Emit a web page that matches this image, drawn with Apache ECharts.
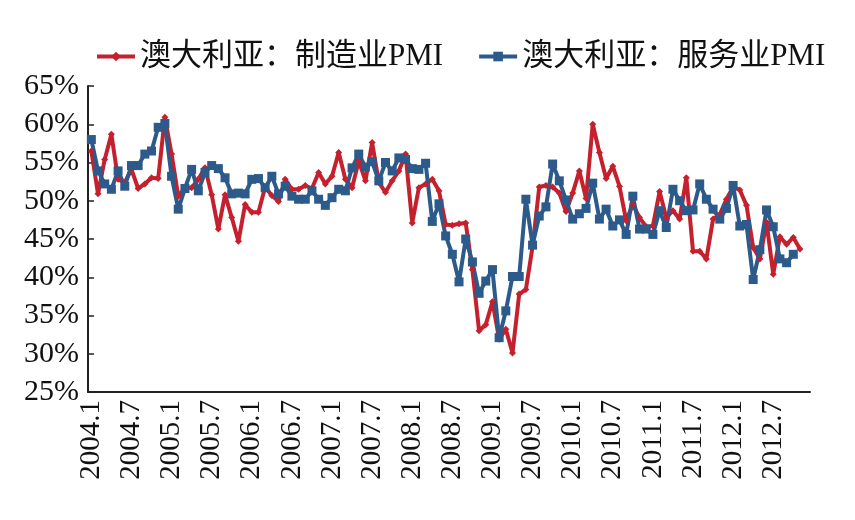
<!DOCTYPE html>
<html>
<head>
<meta charset="utf-8">
<script src="https://cdn.jsdelivr.net/npm/echarts@6/dist/echarts.min.js"></script>
<style>
  html, body { margin: 0; padding: 0; background: #fff; }
  #pmi_chart { width: 855px; height: 520px; }
</style>
</head>
<body>
<div id="pmi_chart"></div>
<script>
  // 2004.1 - 2012.12，月度
  const months = [];
  for (let y = 2004; y <= 2012; y++) {
    for (let m = 1; m <= 12; m++) months.push(y + '.' + m);
  }

  // 澳大利亚：制造业PMI（2004.1 - 2012.11）
  const mfgPmi = [
    56.5, 50.9, 55.4, 58.7, 52.8, 52.4, 54.1, 51.6, 52.2, 53.0, 52.9, 60.9,
    56.1, 50.6, 51.7, 51.7, 52.8, 54.3, 50.8, 46.3, 50.8, 47.8, 44.7, 49.5,
    48.5, 48.5, 51.8, 50.7, 49.9, 52.8, 51.5, 51.5, 52.0, 51.6, 53.7, 52.2,
    53.2, 56.3, 52.8, 51.7, 55.2, 52.6, 57.6, 52.4, 51.1, 52.6, 53.9, 56.1,
    47.1, 51.7, 52.2, 52.8, 51.3, 46.9, 46.8, 47.0, 47.1, 41.0, 33.0, 33.8,
    36.8, 31.9, 33.2, 30.1, 37.8, 38.4, 44.0, 51.8, 52.0, 51.8, 51.0, 48.6,
    51.0, 53.9, 50.3, 60.0, 56.3, 52.9, 54.5, 51.9, 47.4, 49.5, 47.8, 46.6,
    46.7, 51.2, 47.8, 48.7, 47.6, 53.0, 43.4, 43.4, 42.4, 47.6, 48.2, 50.2,
    51.8, 51.4, 49.4, 43.9, 42.4, 47.2, 40.4, 45.3, 44.3, 45.2, 43.7
  ];

  // 澳大利亚：服务业PMI（2004.1 - 2012.10）
  const svcPmi = [
    58.0, 53.9, 52.2, 51.5, 53.9, 51.9, 54.6, 54.6, 56.1, 56.5, 59.6, 60.1,
    53.2, 48.9, 51.6, 54.1, 51.3, 53.7, 54.6, 54.2, 53.0, 50.9, 51.0, 50.9,
    52.8, 52.9, 51.7, 53.2, 50.9, 51.9, 50.6, 50.2, 50.2, 51.3, 50.2, 49.4,
    50.4, 51.5, 51.3, 54.3, 56.1, 54.4, 55.1, 52.6, 55.0, 53.9, 55.6, 55.4,
    54.2, 54.1, 54.9, 47.3, 49.6, 45.4, 43.0, 39.4, 45.0, 42.0, 37.9, 39.5,
    41.0, 32.1, 35.6, 40.1, 40.1, 50.2, 44.2, 48.0, 49.2, 54.8, 52.6, 50.1,
    47.6, 48.3, 49.0, 52.3, 47.6, 48.9, 46.7, 47.5, 45.6, 50.6, 46.3, 46.3,
    45.6, 48.7, 46.5, 51.5, 50.0, 48.7, 48.8, 52.2, 50.2, 48.9, 47.6, 49.0,
    52.0, 46.7, 46.9, 39.7, 43.6, 48.8, 46.6, 42.4, 41.9, 43.0
  ];

  const seriesNames = ['澳大利亚：制造业PMI', '澳大利亚：服务业PMI'];

  const fontFamily = '"Liberation Serif", "Times New Roman", "Noto Sans CJK SC", serif';

  let chart = echarts.init(document.getElementById('pmi_chart'));

  let option = {
    animation: false,
    textStyle: { fontFamily: fontFamily },
    legend: {
      left: 90,
      top: 36,
      itemWidth: 38,
      itemHeight: 12,
      itemGap: 34,
      lineStyle: { width: 4 },
      textStyle: {
        fontFamily: fontFamily,
        fontSize: 31,
        color: '#111'
      },
      data: seriesNames
    },
    grid: {
      left: 88,
      right: 45,
      top: 86,
      bottom: 128
    },
    xAxis: {
      type: 'category',
      data: months,
      boundaryGap: true,
      axisLine: {
        lineStyle: { color: '#222', width: 2 }
      },
      axisTick: {
        inside: true,
        length: 6,
        interval: 5,
        lineStyle: { color: '#222', width: 1.5 }
      },
      axisLabel: {
        interval: 5,
        rotate: 90,
        margin: 8,
        fontSize: 29,
        color: '#111',
        fontFamily: fontFamily
      },
      splitLine: { show: false }
    },
    yAxis: {
      type: 'value',
      min: 25,
      max: 65,
      interval: 5,
      axisLine: {
        show: true,
        lineStyle: { color: '#222', width: 2 }
      },
      axisTick: {
        show: true,
        inside: true,
        length: 6,
        lineStyle: { color: '#222', width: 1.5 }
      },
      axisLabel: {
        formatter: '{value}%',
        margin: 9,
        fontSize: 30,
        color: '#111',
        fontFamily: fontFamily
      },
      splitLine: { show: false }
    },
    series: [
      {
        name: seriesNames[0],
        type: 'line',
        data: mfgPmi,
        symbol: 'diamond',
        symbolSize: 7,
        showAllSymbol: true,
        lineStyle: { color: '#c4202e', width: 4 },
        itemStyle: { color: '#c4202e' }
      },
      {
        name: seriesNames[1],
        type: 'line',
        data: svcPmi,
        symbol: 'rect',
        symbolSize: 9,
        showAllSymbol: true,
        lineStyle: { color: '#2c5a8a', width: 4 },
        itemStyle: { color: '#2c5a8a' }
      }
    ]
  };
  chart.setOption(option);
</script>
</body>
</html>
